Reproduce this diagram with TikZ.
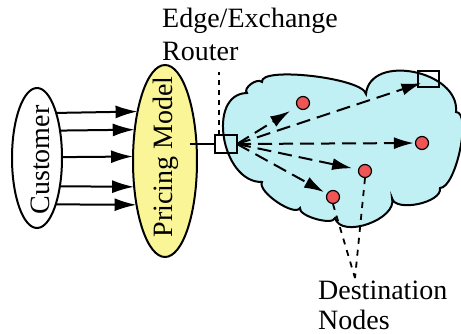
\documentclass[tikz,border=0pt]{standalone}
\usepackage{fontspec}
\setmainfont{Liberation Serif}
\usetikzlibrary{arrows.meta,calc,shapes.geometric}
\definecolor{cloudfill}{RGB}{192,240,244}
\definecolor{pricefill}{RGB}{250,245,150}
\definecolor{dotfill}{RGB}{240,85,85}
\begin{document}
\begin{tikzpicture}[x=1pt,y=-1pt,
  lbl/.style={font=\fontsize{28}{32}\selectfont, inner sep=0pt},
  oval/.style={ellipse, draw, line width=2pt, inner sep=0pt, outer sep=0pt},
  feed/.style={line width=2pt, -{Latex[length=22pt,width=13pt]}},
  fan/.style={line width=2pt, dash pattern=on 14pt off 7pt,
              -{Latex[length=20pt,width=12pt]}},
  dotnode/.style={circle, draw, fill=dotfill, line width=1.2pt,
                  minimum size=13pt, inner sep=0pt},
  boxnode/.style={rectangle, draw, line width=1.5pt, inner sep=0pt, outer sep=0pt},
  pointer/.style={line width=1.8pt, dash pattern=on 6pt off 6pt}]
\useasboundingbox (0,0) rectangle (461,334);

% network cloud
\draw[line width=2pt, fill=cloudfill]
  (262,182) .. controls (221.3,182.7) and (206.3,93.7) .. (247,93)
            .. controls (242.3,88.3) and (257.3,77.3) .. (262,82)
            .. controls (259.3,66) and (363.3,78) .. (366,94)
            .. controls (370,52.7) and (460,70.7) .. (456,112)
            .. controls (472,112) and (456,188) .. (440,188)
            .. controls (442.7,202.7) and (394.7,212.7) .. (392,198)
            .. controls (398,219.3) and (341,239.3) .. (335,218)
            .. controls (333,226) and (298,216) .. (300,208)
            .. controls (294.7,217.3) and (256.7,191.3) .. cycle;

% customer and pricing model
\node[oval, minimum width=50pt, minimum height=140pt] (cust) at (37,158) {};
\node[oval, fill=pricefill, minimum width=64pt, minimum height=192pt] (price) at (165,161) {};
\node[lbl, rotate=90] (custtext) at (40,160) {Customer};
\node[lbl, rotate=90] (pricetext) at (166,157) {Pricing Model};

\draw[feed] (cust.67.7)  -- (price.119.3);
\draw[feed] (cust.50.7)  -- (price.134.3);
\draw[feed] (cust.2.3)   -- (price.172.9);
\draw[feed] (cust.-51.9) -- (price.220.2);
\draw[feed] (cust.-68.5) -- (price.237.1);

% routers
\node[boxnode, minimum width=22pt, minimum height=18pt] (router) at (226,144) {};
\node[boxnode, minimum width=21pt, minimum height=16pt] (exit) at (428.5,79) {};
\draw[line width=1.8pt, shorten <=25pt] (price.center |- router.west) -- (router.west);

% destination nodes
\node[dotnode] (d1) at (303,103) {};
\node[dotnode] (d2) at (422,143) {};
\node[dotnode] (d3) at (365,171) {};
\node[dotnode] (d4) at (333,197) {};

\draw[fan] (router.east) -- ($(exit.center)+(-7,4)$);
\draw[fan, shorten >=8pt] (router.east) -- (d1);
\draw[fan, shorten >=1pt] (router.east) -- (d2);
\draw[fan, shorten >=6pt] (router.east) -- (d3);
\draw[fan, shorten >=3pt] (router.east) -- (d4);

% labels and their pointers
\node[lbl, anchor=base west] (edge) at (162,28) {Edge/Exchange};
\node[lbl, anchor=base west] (rlabel) at (162,61) {Router};
\coordinate (rtop) at (219,72);
\draw[pointer, dash pattern=on 5pt off 5pt] (router.north -| rtop) -- (rtop);

\coordinate (dmeet) at (355,278);
\draw[pointer] (d4.south) -- (dmeet);
\draw[pointer] (d3.south) -- (dmeet);
\node[lbl, anchor=base west] (dest) at (318,299) {Destination};
\node[lbl, anchor=base west] (nodes) at (318,329) {Nodes};
\end{tikzpicture}
\end{document}
